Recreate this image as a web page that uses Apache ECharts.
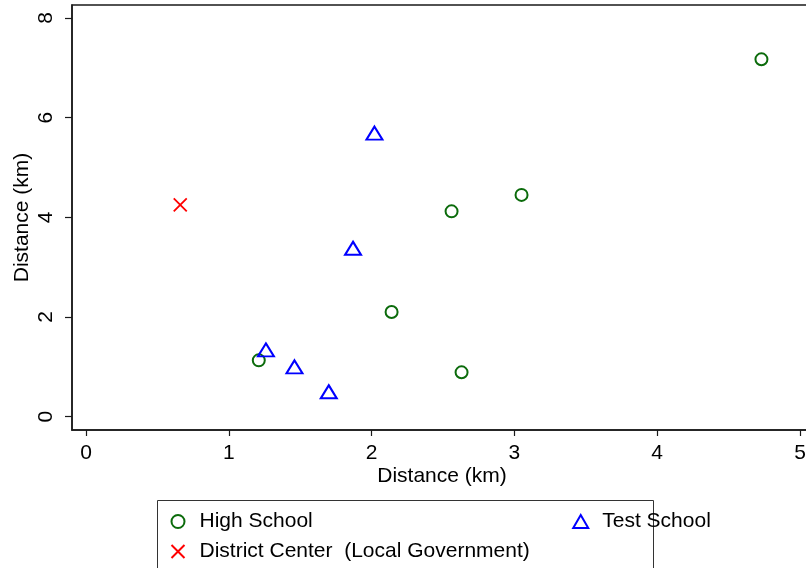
<!DOCTYPE html>
<html>
<head>
<meta charset="utf-8">
<script src="https://cdn.jsdelivr.net/npm/echarts@6/dist/echarts.min.js"></script>
<style>
  html, body { margin: 0; padding: 0; background: #fff; }
  #chart { width: 806px; height: 568px; }
</style>
</head>
<body>
<div id="chart"></div>
<script>
// Data (km)
const highSchool = [
  [4.73, 7.17],
  [3.05, 4.45],
  [2.56, 4.12],
  [2.14, 2.10],
  [1.21, 1.13],
  [2.63, 0.89]
];
const testSchool = [
  [2.02, 5.69],
  [1.87, 3.38],
  [1.26, 1.34],
  [1.46, 1.00],
  [1.70, 0.50]
];
const districtCenter = [
  [0.66, 4.25]
];
const xTicks = [0, 1, 2, 3, 4, 5];
const yTicks = [0, 2, 4, 6, 8];

const font = '"Liberation Sans", Arial, sans-serif';
const axisColor = '#1a1a1a';
const crossPath = 'path://M0,0L10,10M10,0L0,10';
const fontSize = 21;

const chart = echarts.init(document.getElementById('chart'));

const axisCommon = {
  type: 'value',
  nameLocation: 'middle',
  nameMoveOverlap: false,
  nameTextStyle: { fontFamily: font, fontSize: fontSize, color: '#000' },
  axisLine: { show: true, onZero: false, lineStyle: { color: axisColor, width: 1.5 } },
  splitLine: { show: false }
};

const legendText = { fontSize: fontSize, color: '#000', fontFamily: font, padding: [0, 0, 0, 9] };

chart.setOption({
  animation: false,
  textStyle: { fontFamily: font },
  grid: {
    left: 72, top: 5, width: 740, height: 425,
    outerBoundsMode: 'none',
    containLabel: false,
    show: true, borderColor: axisColor, borderWidth: 1.5
  },
  xAxis: Object.assign({}, axisCommon, {
    name: 'Distance (km)',
    nameGap: 36,
    min: -0.098,
    max: 5.084,
    axisTick: { show: true, length: 6, customValues: xTicks, lineStyle: { color: axisColor, width: 1.2 } },
    axisLabel: { customValues: xTicks, fontSize: fontSize, color: '#000', margin: 13, fontFamily: font }
  }),
  yAxis: Object.assign({}, axisCommon, {
    name: 'Distance (km)',
    nameGap: 39,
    min: -0.267,
    max: 8.26,
    axisTick: { show: true, length: 7, customValues: yTicks, lineStyle: { color: axisColor, width: 1.2 } },
    axisLabel: { customValues: yTicks, fontSize: fontSize, color: '#000', rotate: 90, margin: 15, fontFamily: font }
  }),
  legend: [
    {
      data: ['High School', 'Test School'],
      left: 164, top: 506,
      itemGap: 258,
      itemWidth: 15, itemHeight: 13,
      textStyle: legendText
    },
    {
      data: ['District Center  (Local Government)'],
      left: 164, top: 536,
      itemWidth: 15, itemHeight: 13,
      textStyle: legendText
    }
  ],
  graphic: [{
    type: 'rect',
    shape: { x: 157.5, y: 500.5, width: 496, height: 80 },
    style: { fill: 'none', stroke: '#333', lineWidth: 1 },
    silent: true
  }],
  series: [
    {
      name: 'High School',
      type: 'scatter',
      data: highSchool,
      symbol: 'circle',
      symbolSize: 12,
      itemStyle: { color: 'none', borderColor: '#0b6b0b', borderWidth: 2, opacity: 1 }
    },
    {
      name: 'District Center  (Local Government)',
      type: 'scatter',
      data: districtCenter,
      symbol: crossPath,
      symbolSize: 13,
      itemStyle: { color: 'none', borderColor: '#ff0000', borderWidth: 1.8, opacity: 1 }
    },
    {
      name: 'Test School',
      type: 'scatter',
      data: testSchool,
      symbol: 'triangle',
      symbolSize: [16, 13],
      itemStyle: { color: 'none', borderColor: '#0000ff', borderWidth: 2, opacity: 1 }
    }
  ]
});
</script>
</body>
</html>
